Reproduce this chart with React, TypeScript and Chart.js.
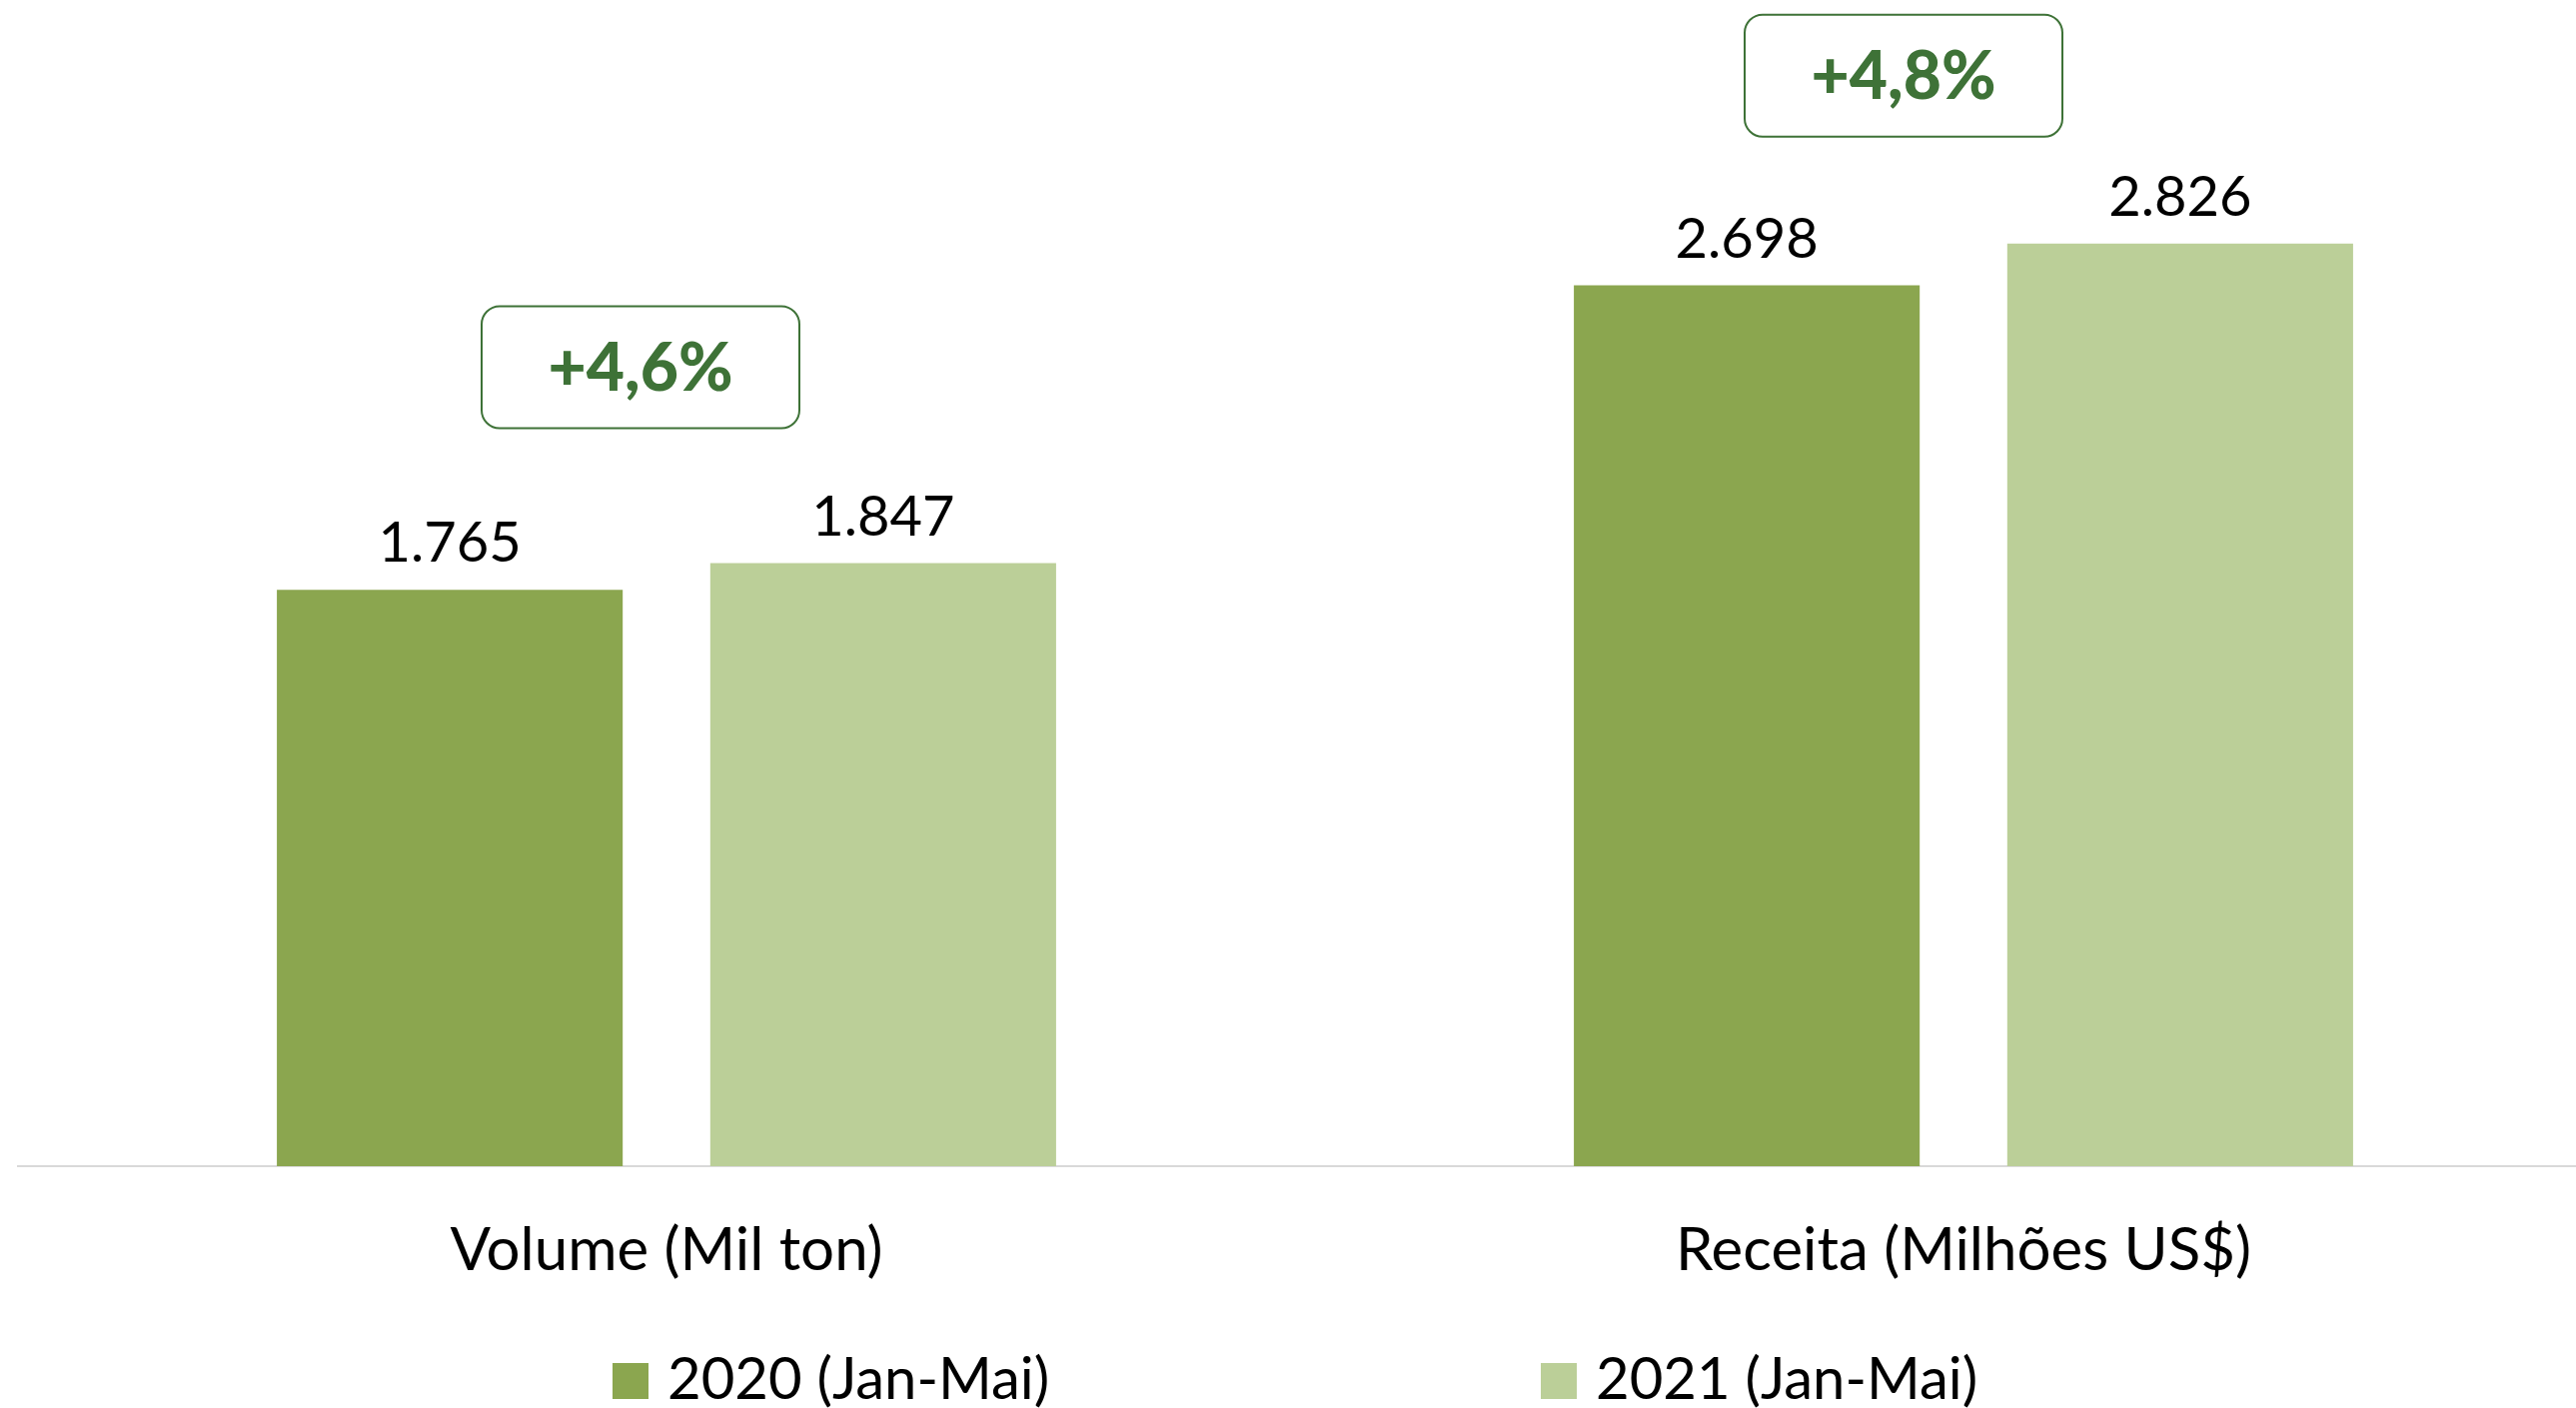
import React, { useEffect, useRef } from "react";
import { Chart, registerables } from "chart.js";

Chart.register(...registerables);

const categories = ["Volume (Mil ton)", "Receita (Milhões US$)"];
const seriesNames = ["2020 (Jan-Mai)", "2021 (Jan-Mai)"];
const values2020 = [1765, 2698];
const values2021 = [1847, 2826];
const growthLabels = ["+4,6%", "+4,8%"];
const colors = ["#8ba64f", "#bbcf98"];

const FONT = "Lato, 'Open Sans', sans-serif";
const GREEN = "#3e7237";

function fmt(v: number): string {
  return String(v).replace(/\B(?=(\d{3})+(?!\d))/g, ".");
}

const dataLabelPlugin = {
  id: "dataLabels",
  afterDatasetsDraw(chart: any) {
    const ctx = chart.ctx;
    ctx.save();
    ctx.font = `56px ${FONT}`;
    ctx.fillStyle = "#000";
    ctx.textAlign = "center";
    ctx.textBaseline = "alphabetic";
    chart.data.datasets.forEach((ds: any, di: number) => {
      const meta = chart.getDatasetMeta(di);
      meta.data.forEach((bar: any, i: number) => {
        ctx.fillText(fmt(ds.data[i]), bar.x, bar.y - 28);
      });
    });
    ctx.restore();
  },
};

const growthBoxPlugin = {
  id: "growthBoxes",
  afterDatasetsDraw(chart: any, _args: any, opts: any) {
    const ctx = chart.ctx;
    const xs = chart.scales.x;
    const ys = chart.scales.y;
    ctx.save();
    (opts.boxes || []).forEach((b: any, i: number) => {
      const cx = xs.getPixelForValue(i) + b.dx;
      const cy = ys.getPixelForValue(b.yValue);
      const w = 318;
      const h = 122;
      ctx.beginPath();
      ctx.roundRect(cx - w / 2, cy - h / 2, w, h, 18);
      ctx.fillStyle = "#fff";
      ctx.fill();
      ctx.lineWidth = 2;
      ctx.strokeStyle = GREEN;
      ctx.stroke();
      ctx.font = `900 66px ${FONT}`;
      ctx.fillStyle = GREEN;
      ctx.textAlign = "center";
      ctx.textBaseline = "alphabetic";
      ctx.fillText(growthLabels[i], cx, cy + 23);
    });
    ctx.restore();
  },
};

const legendPlugin = {
  id: "customLegend",
  afterDraw(chart: any, _args: any, opts: any) {
    const ctx = chart.ctx;
    ctx.save();
    ctx.font = `58px ${FONT}`;
    ctx.textBaseline = "alphabetic";
    ctx.textAlign = "left";
    seriesNames.forEach((name, i) => {
      const x = opts.startX + i * opts.step;
      ctx.fillStyle = colors[i];
      ctx.fillRect(x, opts.boxTop, 36, 36);
      ctx.fillStyle = "#000";
      ctx.fillText(name, x + 55, opts.baseline);
    });
    ctx.restore();
  },
};

export default function App() {
  const ref = useRef<HTMLCanvasElement | null>(null);
  useEffect(() => {
    document.body.style.margin = "0";
    if (!ref.current) return;
    const chart = new Chart(ref.current, {
      type: "bar",
      data: {
        labels: categories,
        datasets: [
          { label: seriesNames[0], data: values2020, backgroundColor: colors[0] },
          { label: seriesNames[1], data: values2021, backgroundColor: colors[1] },
        ],
      },
      options: {
        responsive: false,
        animation: false,
        devicePixelRatio: 1,
        datasets: { bar: { categoryPercentage: 0.6683, barPercentage: 0.798 } },
        layout: { padding: { left: 18, right: 0, top: 0, bottom: 72 } },
        plugins: {
          legend: { display: false },
          tooltip: { enabled: false },
          growthBoxes: {
            boxes: [
              { dx: -26, yValue: 2447 },
              { dx: -60, yValue: 3340 },
            ],
          },
          customLegend: { startX: 613, step: 929, boxTop: 1364, baseline: 1400 },
        } as any,
        scales: {
          x: {
            grid: { display: false, drawTicks: false },
            border: { display: true, color: "#d9d9d9", width: 2 },
            ticks: { color: "#000", font: { family: FONT, size: 60 }, padding: 49 },
          },
          y: {
            display: false,
            min: 0,
            max: 3572,
          },
        },
      },
      plugins: [dataLabelPlugin, growthBoxPlugin, legendPlugin],
    });
    return () => chart.destroy();
  }, []);
  return (
    <div style={{ width: 2578, height: 1409, overflow: "hidden", background: "#fff" }}>
      <canvas ref={ref} width={2614} height={1409} style={{ display: "block" }} />
    </div>
  );
}
